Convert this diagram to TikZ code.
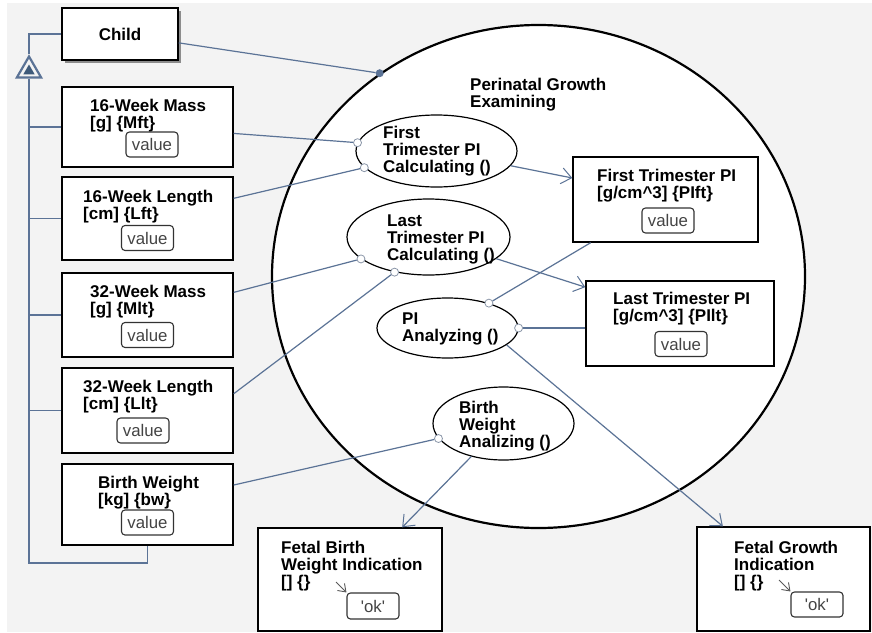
\documentclass[tikz,border=0pt]{standalone}
\usepackage{fontspec}
\setmainfont{Liberation Sans}
\usetikzlibrary{shapes.geometric,arrows.meta,shadows}
\definecolor{bg}{HTML}{F3F3F3}
\definecolor{link}{HTML}{5B7396}
\definecolor{valtxt}{HTML}{444444}
\definecolor{portcol}{HTML}{8A96A8}
\definecolor{gendark}{HTML}{3E5A7A}
\tikzset{
 lbl/.style={anchor=north west, inner sep=0, align=left, font=\fontsize{17}{17}\selectfont\bfseries},
 objbox/.style={draw=black, line width=1.4pt, fill=white, inner sep=0},
 procell/.style={ellipse, draw=black, line width=1.2pt, fill=white, inner sep=0},
 valbox/.style={draw=black!80, line width=1.1pt, rounded corners=3.5pt, fill=white, minimum width=52pt, minimum height=25pt, inner sep=0, text=valtxt, font=\fontsize{16.8}{17}\selectfont},
 conn/.style={draw=link, line width=1.2pt},
 flow/.style={conn, -{Straight Barb[length=10pt,width=16pt,line width=1pt]}},
 smallflow/.style={draw=black!65, line width=0.9pt, -{Straight Barb[length=7pt,width=10pt,line width=0.9pt]}},
 portc/.style={circle, draw=portcol, fill=white, line width=0.8pt, minimum size=8pt, inner sep=0},
}
\begin{document}
\begin{tikzpicture}[x=1pt,y=-1pt]
\useasboundingbox (0,0) rectangle (872,632);
\fill[white] (0,0) rectangle (872,632);
\fill[bg] (7,3) rectangle (872,632);

% main process
\node[ellipse, draw=black, line width=2.2pt, fill=white, inner sep=0, minimum width=533pt, minimum height=503pt] (main) at (538.5,276.5) {};
\node[lbl] (mainlbl) at (470,78) {Perinatal Growth\\Examining};

% left objects
\node[objbox, minimum width=116pt, minimum height=52pt, drop shadow={shadow xshift=3pt, shadow yshift=-3pt, fill=black!45, opacity=1}] (child) at (120,34) {};
\node[inner sep=0, font=\fontsize{17}{17}\selectfont\bfseries] (childlbl) at (120,34) {Child};

\node[objbox, minimum width=171pt, minimum height=80pt] (mass16) at (147.5,127) {};
\node[lbl] (mass16lbl) at (90,99) {16-Week Mass\\{}[g] \{Mft\}};
\node[valbox] (v1) at (152,144.5) {value};

\node[objbox, minimum width=171pt, minimum height=83pt] (lw16) at (147.5,218.5) {};
\node[lbl] (lw16lbl) at (83,190) {16-Week Length\\{}[cm] \{Lft\}};
\node[valbox] (v2) at (147.5,238) {value};

\node[objbox, minimum width=171pt, minimum height=84pt] (mm32) at (147.5,315) {};
\node[lbl] (mm32lbl) at (90,285) {32-Week Mass\\{}[g] \{Mlt\}};
\node[valbox] (v3) at (147.5,335) {value};

\node[objbox, minimum width=171pt, minimum height=85pt] (lw32) at (147.5,410.5) {};
\node[lbl] (lw32lbl) at (83,380) {32-Week Length\\{}[cm] \{Llt\}};
\node[valbox] (v4) at (143,430.5) {value};

\node[objbox, minimum width=171pt, minimum height=81pt] (bw) at (147.5,504.5) {};
\node[lbl] (bwlbl) at (98,476) {Birth Weight\\{}[kg] \{bw\}};
\node[valbox] (v5) at (147.5,522.5) {value};

% right objects
\node[objbox, minimum width=185pt, minimum height=85pt] (ftbox) at (665.5,199.5) {};
\node[lbl] (ftlbl) at (597,169) {First Trimester PI\\{}[g/cm\textasciicircum 3] \{PIft\}};
\node[valbox] (v6) at (668,220.5) {value};

\node[objbox, minimum width=188pt, minimum height=85pt] (ltbox) at (680,323.5) {};
\node[lbl] (ltlbl) at (613,292) {Last Trimester PI\\{}[g/cm\textasciicircum 3] \{PIlt\}};
\node[valbox] (v7) at (681,344) {value};

% bottom objects
\node[objbox, minimum width=184pt, minimum height=103pt] (fbbox) at (350,579.5) {};
\node[lbl] (fblbl) at (281,541) {Fetal Birth\\Weight Indication\\{}[] \{\}};
\node[valbox, minimum height=26pt] (ok1) at (373,606) {\textquotesingle ok\textquotesingle};
\coordinate (a1) at (336,582);

\node[objbox, minimum width=173pt, minimum height=104pt] (fgbox) at (783.5,579) {};
\node[lbl] (fglbl) at (734,541) {Fetal Growth\\Indication\\{}[] \{\}};
\node[valbox] (ok2) at (817,604.5) {\textquotesingle ok\textquotesingle};
\coordinate (a2) at (779,580);

% processes
\node[procell, minimum width=161pt, minimum height=72pt] (e1) at (436.5,151) {};
\node[lbl] (e1lbl) at (383,126) {First\\Trimester PI\\Calculating ()};
\node[procell, minimum width=163pt, minimum height=76pt] (e2) at (428.5,237) {};
\node[lbl] (e2lbl) at (387,215) {Last\\Trimester PI\\Calculating ()};
\node[procell, minimum width=141pt, minimum height=60pt] (e3) at (447.5,328) {};
\node[lbl] (e3lbl) at (402,313) {PI\\Analyzing ()};
\node[procell, minimum width=141pt, minimum height=73pt] (e4) at (503.5,423.5) {};
\node[lbl] (e4lbl) at (459,401) {Birth\\Weight\\Analizing ()};

% ports
\node[portc] (p1) at (e1.174) {};
\node[portc] (p2) at (e1.193) {};
\node[portc] (p3) at (e2.198) {};
\node[portc] (p4) at (e2.226) {};
\node[portc] (p5) at (e4.193) {};
\node[portc] (p6) at (e3.31) {};
\node[portc] (p7) at (e3.0) {};
\node[circle, fill=link, minimum size=8pt, inner sep=0] (cdot) at (main.128.2) {};

% connectors
\draw[conn] (child) -- (cdot);
\draw[conn] (mass16) -- (p1);
\draw[conn] (lw16) -- (p2);
\draw[conn] (mm32) -- (p3);
\draw[conn] (lw32.11.6) -- (p4);
\draw[conn] (bw) -- (p5);
\draw[conn] (ftbox.210) -- (p6);
\draw[conn] (ltbox.west |- p7) -- (p7);
\draw[flow] (e1) -- (ftbox.167.5);
\draw[flow] (e2) -- (ltbox.159.6);
\draw[flow] (e3.-16) -- (fgbox.139);
\draw[flow] (e4) -- (fbbox.45);
\draw[smallflow] (a1) -- (ok1.north west);
\draw[smallflow] (a2) -- (ok2.north west);

% generalization
\node[regular polygon, regular polygon sides=3, draw=link, line width=2.2pt, fill=bg, minimum size=28pt, inner sep=0] (gen) at (29,70.5) {};
\node[regular polygon, regular polygon sides=3, fill=gendark, minimum size=13pt, inner sep=0] (geninner) at (29,71) {};
\coordinate (trunk) at (29,563);
\draw[conn] (gen.corner 1) |- (child.west);
\draw[conn] (gen.south) -- (trunk) -| (bw.south);
\draw[conn] (mass16.west) -- (mass16.west -| trunk);
\draw[conn] (lw16.west) -- (lw16.west -| trunk);
\draw[conn] (mm32.west) -- (mm32.west -| trunk);
\draw[conn] (lw32.west) -- (lw32.west -| trunk);
\end{tikzpicture}
\end{document}
